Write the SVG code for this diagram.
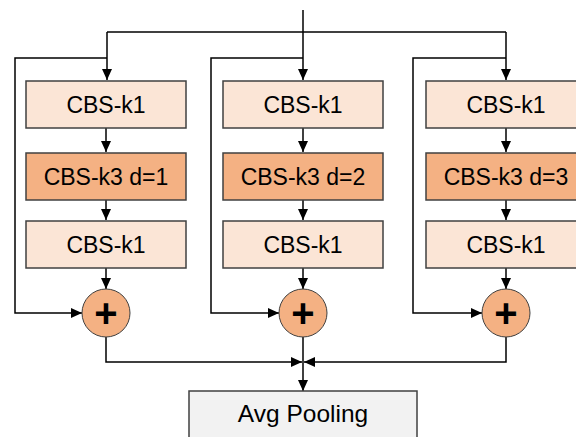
<svg xmlns="http://www.w3.org/2000/svg" width="576" height="437" viewBox="0 0 576 437">
<style>
.l{fill:#FBE5D6;stroke:#404040;stroke-width:1.5}
.d{fill:#F4B183;stroke:#404040;stroke-width:1.5}
.p{fill:#F2F2F2;stroke:#404040;stroke-width:1.5}
.c{fill:#F4B183;stroke:#404040;stroke-width:1}
.t{font-family:"Liberation Sans",Arial,sans-serif;font-size:23px;fill:#000;text-anchor:middle}
.pl{font-family:"Liberation Sans",Arial,sans-serif;font-size:40px;font-weight:bold;fill:#000;text-anchor:middle}
.w{fill:none;stroke:#000;stroke-width:1.5}
</style>
<defs>
<marker id="a" viewBox="0 0 11 10" refX="11" refY="5" markerWidth="11" markerHeight="10" markerUnits="userSpaceOnUse" orient="auto">
<path d="M0,0 L11,5 L0,10 z" fill="#000"/>
</marker>
</defs>
<g id="connectors">
<path class="w" d="M303,10 V80" marker-end="url(#a)"/>
<path class="w" d="M107,32 H506"/>
<path class="w" d="M107,32 V80" marker-end="url(#a)"/>
<path class="w" d="M506,32 V80" marker-end="url(#a)"/>
<path class="w" d="M107,58 H15 V313 H82" marker-end="url(#a)"/>
<path class="w" d="M303,58 H211 V313 H279" marker-end="url(#a)"/>
<path class="w" d="M506,58 H413 V313 H482" marker-end="url(#a)"/>
<path class="w" d="M106,128 V152" marker-end="url(#a)"/>
<path class="w" d="M106,200 V220" marker-end="url(#a)"/>
<path class="w" d="M106,268 V289" marker-end="url(#a)"/>
<path class="w" d="M303,128 V152" marker-end="url(#a)"/>
<path class="w" d="M303,200 V220" marker-end="url(#a)"/>
<path class="w" d="M303,268 V289" marker-end="url(#a)"/>
<path class="w" d="M506,128 V152" marker-end="url(#a)"/>
<path class="w" d="M506,200 V220" marker-end="url(#a)"/>
<path class="w" d="M506,268 V289" marker-end="url(#a)"/>
<path class="w" d="M106,337 V362 H302" marker-end="url(#a)"/>
<path class="w" d="M506,337 V362 H304" marker-end="url(#a)"/>
<path class="w" d="M303,337 V391" marker-end="url(#a)"/>
</g>
<g id="c1-k1a"><rect class="l" x="26" y="81" width="160" height="47"/><text class="t" x="106" y="112.5">CBS-k1</text></g>
<g id="c1-k3"><rect class="d" x="26" y="153" width="160" height="47"/><text class="t" x="106" y="184.5">CBS-k3 d=1</text></g>
<g id="c1-k1b"><rect class="l" x="26" y="221" width="160" height="47"/><text class="t" x="106" y="252.5">CBS-k1</text></g>
<g id="c1-add"><circle class="c" cx="106" cy="313" r="24"/><text class="pl" x="106" y="327">+</text></g>
<g id="c2-k1a"><rect class="l" x="223" y="81" width="160" height="47"/><text class="t" x="303" y="112.5">CBS-k1</text></g>
<g id="c2-k3"><rect class="d" x="223" y="153" width="160" height="47"/><text class="t" x="303" y="184.5">CBS-k3 d=2</text></g>
<g id="c2-k1b"><rect class="l" x="223" y="221" width="160" height="47"/><text class="t" x="303" y="252.5">CBS-k1</text></g>
<g id="c2-add"><circle class="c" cx="303" cy="313" r="24"/><text class="pl" x="303" y="327">+</text></g>
<g id="c3-k1a"><rect class="l" x="426" y="81" width="160" height="47"/><text class="t" x="506" y="112.5">CBS-k1</text></g>
<g id="c3-k3"><rect class="d" x="426" y="153" width="160" height="47"/><text class="t" x="506" y="184.5">CBS-k3 d=3</text></g>
<g id="c3-k1b"><rect class="l" x="426" y="221" width="160" height="47"/><text class="t" x="506" y="252.5">CBS-k1</text></g>
<g id="c3-add"><circle class="c" cx="506" cy="313" r="24"/><text class="pl" x="506" y="327">+</text></g>
<g id="avgpool"><rect class="p" x="189" y="391" width="228" height="60"/><text class="t" x="303" y="422" style="font-size:24.5px">Avg Pooling</text></g>
</svg>
